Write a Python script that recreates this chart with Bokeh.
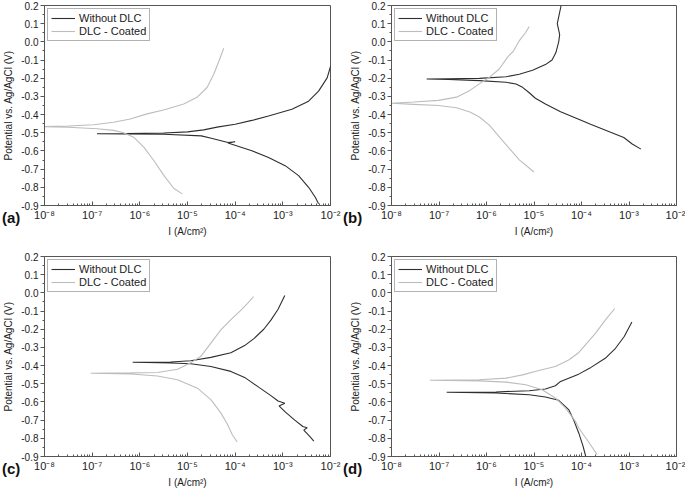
from bokeh.plotting import figure
from bokeh.layouts import column, row
from bokeh.models import (FixedTicker, CustomJSTickFormatter, Legend,
                          LegendItem, Range1d, Div)
from bokeh.embed import file_html
from bokeh.resources import INLINE

# ---------------- data (I in A/cm^2, E in V vs Ag/AgCl) ----------------
series_names = ["Without DLC", "DLC - Coated"]
panel_tags = ["(a)", "(b)", "(c)", "(d)"]

a_bare_I = [5.62e-3, 4.79e-3, 3.47e-3, 2.14e-3, 1.12e-3, 5.01e-4, 2.24e-4, 7.08e-5, 1.0e-4, 7.08e-5,
            3.16e-5, 1.95e-5, 3.16e-6, 5.01e-7, 1.26e-7, 5.01e-7, 3.16e-6, 1.0e-5, 2.19e-5, 4.17e-5,
            1.0e-4, 2.24e-4, 5.01e-4, 1.55e-3, 3.47e-3, 5.62e-3, 8.51e-3, 1.0e-2]
a_bare_E = [-0.891, -0.855, -0.800, -0.736, -0.681, -0.636, -0.599, -0.556, -0.549, -0.554,
            -0.530, -0.517, -0.508, -0.506, -0.505, -0.504, -0.501, -0.495, -0.484, -0.469,
            -0.453, -0.432, -0.408, -0.371, -0.326, -0.271, -0.198, -0.135]
a_coat_I = [7.76e-6, 5.13e-6, 3.16e-6, 1.95e-6, 1.20e-6, 7.41e-7, 4.57e-7, 2.82e-7, 1.26e-7, 3.16e-8,
            1.0e-8, 3.16e-8, 1.07e-7, 2.82e-7, 6.31e-7, 1.41e-6, 3.16e-6, 8.32e-6, 1.58e-5, 2.57e-5,
            3.55e-5, 4.57e-5, 5.75e-5]
a_coat_E = [-0.836, -0.805, -0.733, -0.651, -0.578, -0.524, -0.500, -0.487, -0.478, -0.470,
            -0.466, -0.463, -0.456, -0.442, -0.424, -0.396, -0.375, -0.342, -0.305, -0.251,
            -0.178, -0.105, -0.035]

b_bare_I = [1.78e-3, 1.17e-3, 7.76e-4, 1.55e-4, 8.71e-5, 3.63e-5, 1.74e-5, 1.07e-5, 7.94e-6, 5.75e-6,
            4.17e-6, 2.57e-6, 7.08e-7, 1.58e-7, 5.5e-8, 1.58e-7, 7.08e-7, 2.57e-6, 4.9e-6, 9.33e-6,
            1.74e-5, 2.4e-5, 2.88e-5, 3.31e-5, 3.47e-5, 3.09e-5, 3.39e-5, 3.72e-5]
b_bare_E = [-0.590, -0.562, -0.526, -0.453, -0.425, -0.385, -0.342, -0.310, -0.280, -0.250,
            -0.232, -0.222, -0.213, -0.207, -0.204, -0.203, -0.201, -0.192, -0.178, -0.156,
            -0.125, -0.100, -0.060, 0.000, 0.040, 0.100, 0.150, 0.200]
b_coat_I = [1.0e-5, 4.9e-6, 3.02e-6, 1.86e-6, 1.15e-6, 7.08e-7, 4.47e-7, 2.34e-7, 9.77e-8, 2.95e-8,
            1.0e-8, 2.95e-8, 9.77e-8, 2.34e-7, 4.47e-7, 7.08e-7, 1.15e-6, 1.86e-6, 2.75e-6, 3.72e-6,
            5.01e-6, 6.61e-6, 7.94e-6]
b_coat_E = [-0.716, -0.649, -0.586, -0.522, -0.458, -0.413, -0.386, -0.362, -0.350, -0.344,
            -0.338, -0.331, -0.322, -0.304, -0.267, -0.231, -0.195, -0.149, -0.085, -0.049,
            0.010, 0.050, 0.085]

c_bare_I = [4.47e-3, 3.55e-3, 2.75e-3, 3.24e-3, 2.63e-3, 1.78e-3, 1.12e-3, 8.32e-4, 1.1e-3, 7.94e-4,
            5.62e-4, 3.16e-4, 1.58e-4, 8.13e-5, 3.09e-5, 1.17e-5, 4.47e-6, 7.08e-7, 4.47e-6, 1.17e-5,
            3.09e-5, 8.13e-5, 1.58e-4, 2.51e-4, 3.98e-4, 5.62e-4, 7.94e-4, 1.1e-3]
c_bare_E = [-0.815, -0.785, -0.755, -0.742, -0.735, -0.700, -0.655, -0.622, -0.607, -0.595,
            -0.565, -0.520, -0.465, -0.432, -0.405, -0.390, -0.386, -0.382, -0.380, -0.373,
            -0.355, -0.329, -0.290, -0.250, -0.200, -0.150, -0.090, -0.015]
c_coat_I = [1.1e-4, 8.71e-5, 6.92e-5, 5.01e-5, 3.09e-5, 1.62e-5, 6.17e-6, 2.34e-6, 6.46e-7, 9.33e-8,
            6.46e-7, 2.34e-6, 6.17e-6, 1.17e-5, 1.91e-5, 3.09e-5, 5.01e-5, 7.94e-5, 1.26e-4, 1.78e-4,
            2.45e-4]
c_coat_E = [-0.820, -0.780, -0.724, -0.660, -0.587, -0.524, -0.478, -0.457, -0.446, -0.442,
            -0.440, -0.438, -0.420, -0.385, -0.349, -0.276, -0.204, -0.150, -0.100, -0.060,
            -0.020]

d_bare_I = [1.23e-4, 1.07e-4, 8.71e-5, 6.76e-5, 5.37e-5, 3.31e-5, 1.74e-5, 7.94e-6, 1.58e-6, 1.45e-7,
            1.58e-6, 7.94e-6, 1.74e-5, 2.82e-5, 3.63e-5, 5.37e-5, 8.71e-5, 1.58e-4, 3.16e-4, 5.01e-4,
            7.94e-4, 1.15e-3]
d_bare_E = [-0.900, -0.840, -0.769, -0.696, -0.642, -0.591, -0.573, -0.560, -0.551, -0.547,
            -0.545, -0.538, -0.529, -0.511, -0.487, -0.469, -0.447, -0.410, -0.360, -0.310,
            -0.240, -0.160]
d_coat_I = [2.14e-4, 1.41e-4, 8.71e-5, 7.41e-5, 4.57e-5, 2.82e-5, 1.48e-5, 6.76e-6, 2.57e-6, 7.08e-7,
            6.46e-8, 7.08e-7, 2.57e-6, 5.75e-6, 1.26e-5, 2.82e-5, 5.37e-5, 8.71e-5, 1.26e-4, 2.0e-4,
            3.16e-4, 5.01e-4]
d_coat_E = [-0.890, -0.820, -0.742, -0.705, -0.633, -0.578, -0.533, -0.505, -0.491, -0.484,
            -0.481, -0.478, -0.469, -0.451, -0.427, -0.405, -0.369, -0.329, -0.280, -0.220,
            -0.150, -0.086]

x_ticks = [1e-8, 1e-7, 1e-6, 1e-5, 1e-4, 1e-3, 1e-2]
y_ticks = [-0.9, -0.8, -0.7, -0.6, -0.5, -0.4, -0.3, -0.2, -0.1, 0.0, 0.1, 0.2]
y_minor = [-0.85, -0.75, -0.65, -0.55, -0.45, -0.35, -0.25, -0.15, -0.05, 0.05, 0.15]
x_minor = [m * d for d in x_ticks[:-1] for m in range(2, 10)]

x_label = "I (A/cm\u00b2)"
y_label = "Potential vs. Ag/AgCl (V)"

# ---------------- styling ----------------
FONT = "Liberation Sans"
DARK = "#2e2e2e"
LIGHT = "#bdbdbd"
AXC = "#555555"

sup_js = """
const m = {'-':'\u207b','0':'\u2070','1':'\u00b9','2':'\u00b2','3':'\u00b3','4':'\u2074',
           '5':'\u2075','6':'\u2076','7':'\u2077','8':'\u2078','9':'\u2079'};
const e = Math.round(Math.log10(tick));
return '10' + String(e).split('').map(c => m[c]).join('');
"""


def panel(bI, bE, cI, cE, w, h, bl, br, bt, bb):
    p = figure(width=w, height=h, x_axis_type="log",
               x_range=Range1d(1e-8, 1e-2), y_range=Range1d(-0.9, 0.2),
               output_backend="svg", toolbar_location=None,
               min_border_left=bl, min_border_right=br,
               min_border_top=bt, min_border_bottom=bb)
    p.xgrid.visible = False
    p.ygrid.visible = False
    p.outline_line_color = AXC
    p.outline_line_width = 1
    p.background_fill_color = "white"
    p.border_fill_color = "white"

    xa = p.xaxis[0]
    xa.ticker = FixedTicker(ticks=x_ticks, minor_ticks=x_minor)
    xa.formatter = CustomJSTickFormatter(code=sup_js)
    xa.major_tick_in = 4
    xa.major_tick_out = 0
    xa.minor_tick_in = 2
    xa.minor_tick_out = 0
    xa.major_label_standoff = 3
    xa.axis_label = x_label
    xa.axis_label_standoff = 2
    ya = p.yaxis[0]
    ya.ticker = FixedTicker(ticks=y_ticks, minor_ticks=y_minor)
    ya.formatter = CustomJSTickFormatter(code="return tick.toFixed(1);")
    ya.major_tick_in = 0
    ya.major_tick_out = 4
    ya.minor_tick_in = 0
    ya.minor_tick_out = 2
    ya.major_label_standoff = 2
    ya.axis_label = y_label
    ya.axis_label_standoff = 4
    for ax in (xa, ya):
        ax.axis_line_color = AXC
        ax.major_tick_line_color = AXC
        ax.minor_tick_line_color = AXC
        ax.major_label_text_font = FONT
        ax.major_label_text_font_size = "10px"
        ax.major_label_text_color = "#222222"
        ax.axis_label_text_font = FONT
        ax.axis_label_text_font_size = "10px"
        ax.axis_label_text_font_style = "normal"
        ax.axis_label_text_color = "#222222"
    xa.major_label_text_font_size = "11px"

    r1 = p.line(bI, bE, line_color=DARK, line_width=1.1)
    r2 = p.line(cI, cE, line_color=LIGHT, line_width=1.1)

    leg = Legend(items=[LegendItem(label=series_names[0], renderers=[r1]),
                        LegendItem(label=series_names[1], renderers=[r2])],
                 location="top_left", margin=3, padding=3, spacing=1,
                 label_text_font=FONT, label_text_font_size="11px",
                 label_text_color="#222222",
                 label_height=12, glyph_height=12, glyph_width=24, label_standoff=4,
                 border_line_color="#666666", border_line_width=1,
                 background_fill_color="white", background_fill_alpha=1.0)
    p.add_layout(leg)
    return p


def tag_div(text, left, top):
    return Div(text=text, width=30, height=18,
               styles={"position": "absolute", "left": f"{left}px", "top": f"{top}px",
                       "font-family": FONT, "font-weight": "bold", "font-size": "15px",
                       "color": "#111111", "line-height": "18px", "margin": "0",
                       "padding": "0"})


pa = panel(a_bare_I, a_bare_E, a_coat_I, a_coat_E, 345, 245, 44, 15, 5, 40)
pb = panel(b_bare_I, b_bare_E, b_coat_I, b_coat_E, 340, 245, 46, 9, 5, 40)
pc = panel(c_bare_I, c_bare_E, c_coat_I, c_coat_E, 345, 246, 44, 15, 11, 35)
pd = panel(d_bare_I, d_bare_E, d_coat_I, d_coat_E, 340, 246, 46, 9, 11, 35)

tags = [tag_div(panel_tags[0], 2, 209), tag_div(panel_tags[1], 343, 209),
        tag_div(panel_tags[2], 2, 460), tag_div(panel_tags[3], 343, 460)]

layout = column(row(pa, pb), row(pc, pd), *tags)
open("out.html", "w").write(file_html(layout, INLINE))
